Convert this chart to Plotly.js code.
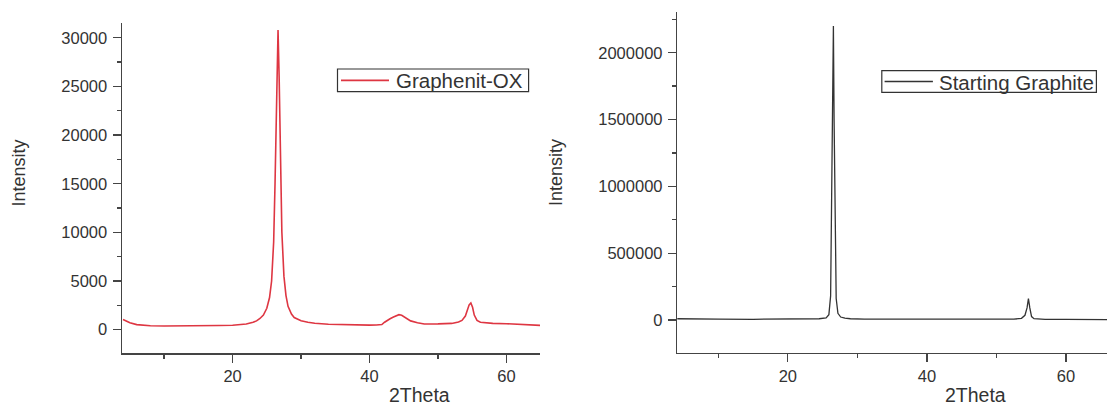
<!DOCTYPE html>
<html>
<head>
<meta charset="utf-8">
<script src="https://cdn.plot.ly/plotly-3.0.1.min.js"></script>
<style>html,body{margin:0;padding:0;background:#fff;}#plot{width:1107px;height:407px;}</style>
</head>
<body>
<div id="plot"></div>
<script>
// Graphenit-OX pattern (2Theta, Intensity)
const oxTheta = [4,5,6,7,8,10,12,14,16,18,20,21,22,23,23.5,24,24.5,25,25.4,25.7,26,26.2,26.4,26.64,26.8,27,27.2,27.5,27.8,28.1,28.6,29,30,31,32,34,36,38,40,41,41.8,42.2,42.6,43,43.5,44,44.3,44.7,45.2,46,47,47.5,48,50,52,53,53.5,54,54.3,54.55,54.8,55.05,55.3,55.7,56.2,57,58,60,62,64,65];
const oxIntensity = [1050,720,520,430,400,380,380,390,410,430,460,500,580,750,900,1150,1500,2200,3300,5000,9000,15000,24000,30800,26000,16000,10000,5500,3500,2400,1600,1250,920,760,660,560,510,480,470,480,520,760,980,1120,1300,1480,1540,1480,1250,900,700,600,580,590,640,780,950,1400,2000,2550,2740,2300,1500,950,760,680,640,610,560,480,440];
// Starting Graphite pattern
const grTheta = [4,6,10,15,20,23,24.5,25.5,25.9,26.15,26.3,26.45,26.55,26.65,26.8,26.95,27.2,27.6,28.2,29,31,35,40,45,50,52.5,53.6,54.1,54.4,54.6,54.8,55.05,55.4,56,57,60,63,66];
const grIntensity = [9000,7000,6000,5000,5000,6000,9000,16000,40000,180000,800000,1600000,2200000,1500000,600000,160000,50000,22000,13000,9000,6000,5000,4000,4000,4000,6000,12000,35000,90000,160000,90000,25000,10000,6000,5000,4000,3500,3000];

const oxName = 'Graphenit-OX';
const grName = 'Starting Graphite';
const xTitle = '2Theta';
const yTitle = 'Intensity';

const oxColor = 'rgb(222,54,66)';
const grColor = '#333';

const FONT = 'Liberation Sans, Arial, sans-serif';
const tickFont = {family: FONT, size: 16.5, color: '#333'};
const minorTicks = (d) => ({dtick: d, ticks: 'outside', ticklen: 4, tickcolor: '#444', tickwidth: 1.3});
const axisCommon = {
  showline: true, linecolor: '#444', linewidth: 1.5, mirror: false,
  showgrid: false, zeroline: false,
  ticks: 'outside', ticklen: 8, tickwidth: 1.3, tickcolor: '#444',
  tickfont: tickFont, fixedrange: true
};

const traces = [
  {x: oxTheta, y: oxIntensity, type: 'scatter', mode: 'lines', name: oxName,
   line: {color: oxColor, width: 1.6}, xaxis: 'x', yaxis: 'y'},
  {x: grTheta, y: grIntensity, type: 'scatter', mode: 'lines', name: grName,
   line: {color: grColor, width: 1.3}, xaxis: 'x2', yaxis: 'y2'}
];

const W = 1107, H = 407;
const px = (v) => v / W;
const py = (v) => 1 - v / H;

// legend boxes (drawn as boxes + sample lines + real text)
function legendBox(x0, x1, y0, y1, lx0, lx1, tx, color, label) {
  const ym = (y0 + y1) / 2;
  return {
    shapes: [
      {type: 'rect', xref: 'paper', yref: 'paper', x0: px(x0), x1: px(x1), y0: py(y1), y1: py(y0),
       line: {color: '#333', width: 1.2}, fillcolor: '#fff', layer: 'above'},
      {type: 'line', xref: 'paper', yref: 'paper', x0: px(lx0), x1: px(lx1), y0: py(ym), y1: py(ym),
       line: {color: color, width: 1.6}, layer: 'above'}
    ],
    ann: {text: label, xref: 'paper', yref: 'paper', x: px(tx), y: py(ym + 0.5), xanchor: 'left', yanchor: 'middle',
      showarrow: false, borderpad: 0, font: {family: FONT, size: 20.5, color: '#333'}}
  };
}
const lg1 = legendBox(337.5, 528.6, 69, 91.7, 341, 389, 394.5, oxColor, oxName);
const lg2 = legendBox(881.8, 1096.4, 70.7, 92.3, 884.6, 932.9, 937.5, grColor, grName);

const layout = {
  width: W, height: H,
  margin: {l: 0, r: 0, t: 0, b: 0},
  paper_bgcolor: '#fff', plot_bgcolor: '#fff',
  showlegend: false,
  xaxis: Object.assign({}, axisCommon, {domain: [px(122), px(540)], range: [3.85, 64.9],
    tick0: 0, dtick: 20, minor: minorTicks(10), anchor: 'y'}),
  yaxis: Object.assign({}, axisCommon, {domain: [py(353), py(22.7)], range: [-2400, 31550],
    tick0: 0, dtick: 5000, tickformat: 'd', minor: minorTicks(2500), anchor: 'x', ticklabelstandoff: 2}),
  xaxis2: Object.assign({}, axisCommon, {domain: [px(677.3), 1], range: [4.1, 65.9],
    tick0: 0, dtick: 20, minor: minorTicks(10), anchor: 'y2'}),
  yaxis2: Object.assign({}, axisCommon, {domain: [py(352.7), py(11.7)], range: [-245000, 2307000],
    tick0: 0, dtick: 500000, tickformat: 'd', minor: minorTicks(250000), anchor: 'x2', ticklabelstandoff: 2}),
  shapes: lg1.shapes.concat(lg2.shapes),
  annotations: [
    lg1.ann, lg2.ann,
    {text: yTitle, xref: 'paper', yref: 'paper', x: px(18.6), y: py(173), textangle: -90,
     showarrow: false, xanchor: 'center', yanchor: 'middle', font: {family: FONT, size: 18, color: '#333'}},
    {text: yTitle, xref: 'paper', yref: 'paper', x: px(556), y: py(173), textangle: -90,
     showarrow: false, xanchor: 'center', yanchor: 'middle', font: {family: FONT, size: 18, color: '#333'}},
    {text: xTitle, xref: 'paper', yref: 'paper', x: px(419), y: 0, borderpad: 0,
     showarrow: false, xanchor: 'center', yanchor: 'bottom', font: {family: FONT, size: 19.5, color: '#333'}},
    {text: xTitle, xref: 'paper', yref: 'paper', x: px(975), y: 0, borderpad: 0,
     showarrow: false, xanchor: 'center', yanchor: 'bottom', font: {family: FONT, size: 19.5, color: '#333'}}
  ]
};

Plotly.newPlot('plot', traces, layout, {staticPlot: true, displayModeBar: false});
</script>
</body>
</html>
